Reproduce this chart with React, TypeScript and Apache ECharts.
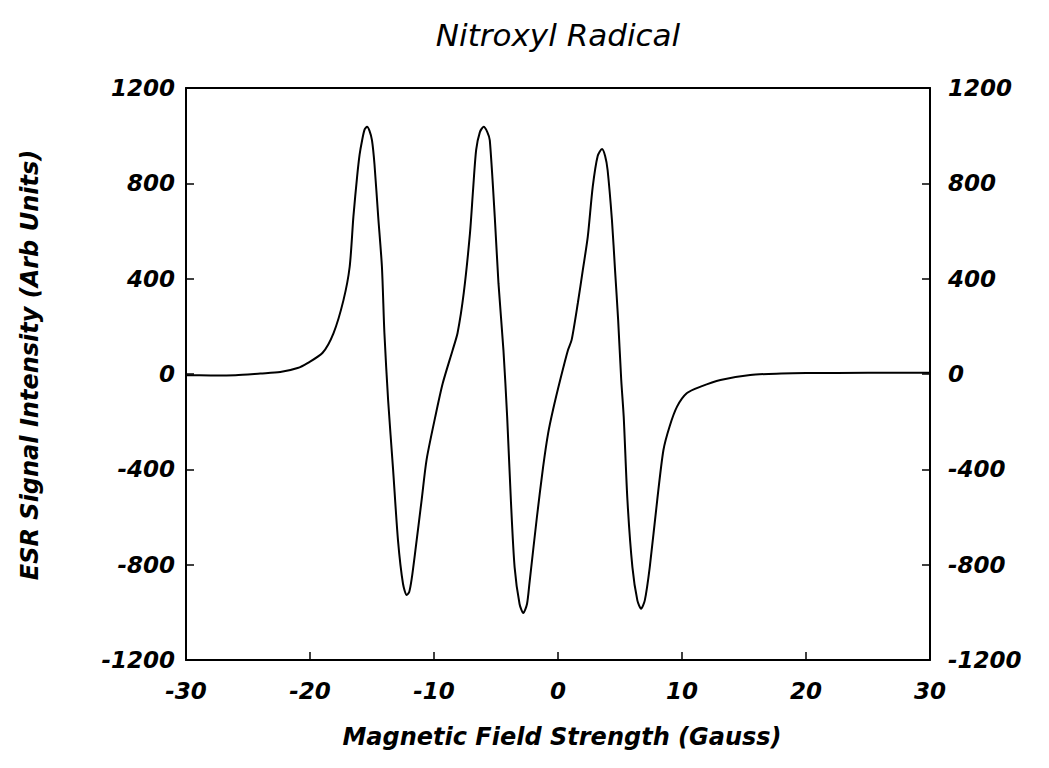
import React, { useEffect, useRef } from "react";
import * as echarts from "echarts";

const fieldGauss: number[] = [
  -30, -28, -26, -24, -22.4, -21, -20.2, -19, -18.1, -17.3, -16.8, -16.5, -16.2, -16.0, -15.8,
  -15.6, -15.4, -15.2, -15.0, -14.8, -14.5, -14.2, -14.0, -13.7, -13.3, -12.9, -12.5, -12.2,
  -12.0, -11.8, -11.5, -11.0, -10.6, -9.9, -9.3, -8.5, -8.1, -7.6, -7.1, -6.85, -6.6, -6.3,
  -6.0, -5.7, -5.5, -5.1, -4.8, -4.4, -4.1, -3.8, -3.5, -3.1, -2.8, -2.5, -2.3, -1.7, -1.2,
  -0.8, -0.4, 0.2, 0.8, 1.1, 1.6, 2.0, 2.4, 2.8, 3.2, 3.55, 3.8, 4.0, 4.35, 4.6, 4.85, 5.1,
  5.3, 5.6, 6.0, 6.4, 6.7, 7.0, 7.4, 8.0, 8.5, 9.0, 9.6, 10.4, 11.5, 13.1, 15.5, 18, 20, 25, 30,
];

const signal: number[] = [
  -5, -6, -5, 2, 8, 25, 46, 88, 172, 310, 450, 660, 828, 920, 980,
  1025, 1037, 1020, 980, 880, 660, 450, 172, -110, -400, -700, -880, -927,
  -915, -860, -740, -530, -360, -180, -40, 100, 172, 340, 590, 772, 940, 1015,
  1037, 1015, 980, 660, 380, 100, -180, -530, -810, -965, -1003, -965, -877, -600, -390,
  -250, -150, -20, 100, 143, 298, 436, 575, 785, 915, 944, 915, 856, 646, 436, 227, -25,
  -180, -530, -810, -950, -985, -950, -810, -530, -320, -220, -137, -80, -53, -25, -4, 2, 4, 5, 5,
];

const xTicks = { min: -30, max: 30, interval: 10 };
const yTicks = { min: -1200, max: 1200, interval: 400 };

const titleText = "Nitroxyl Radical";
const xTitle = "Magnetic Field Strength (Gauss)";
const yTitle = "ESR Signal Intensity (Arb Units)";

export default function App() {
  const ref = useRef<HTMLDivElement>(null);
  useEffect(() => {
    if (!ref.current) return;
    const chart = echarts.init(ref.current, undefined, { renderer: "svg" });
    const data = fieldGauss.map((x, i) => [x, signal[i]]);
    const labelFont = {
      fontFamily: "DejaVu Sans",
      fontStyle: "italic" as const,
      fontWeight: "bold" as const,
      fontSize: 23,
      color: "#000",
      formatter: (v: number) => String(v),
    };
    const yAxisBase = {
      type: "value" as const,
      min: yTicks.min,
      max: yTicks.max,
      interval: yTicks.interval,
      splitLine: { show: false },
      axisLine: { show: true, onZero: false, lineStyle: { color: "#000", width: 2 } },
      axisTick: { show: true, inside: true, length: 8, lineStyle: { color: "#000", width: 1.5 } },
    };
    chart.setOption({
      animation: false,
      backgroundColor: "#fff",
      grid: { left: 186, right: 119, top: 88, bottom: 108, containLabel: false },
      xAxis: [
        {
          type: "value",
          position: "bottom",
          min: xTicks.min,
          max: xTicks.max,
          interval: xTicks.interval,
          splitLine: { show: false },
          axisLine: { show: true, onZero: false, lineStyle: { color: "#000", width: 2 } },
          axisTick: { show: true, inside: true, length: 8, lineStyle: { color: "#000", width: 1.5 } },
          axisLabel: { ...labelFont, margin: 19 },
        },
        {
          type: "value",
          position: "top",
          min: xTicks.min,
          max: xTicks.max,
          interval: xTicks.interval,
          splitLine: { show: false },
          axisLine: { show: true, onZero: false, lineStyle: { color: "#000", width: 2 } },
          axisTick: { show: false },
          axisLabel: { show: false },
        },
      ],
      yAxis: [
        { ...yAxisBase, position: "left", axisLabel: { ...labelFont, margin: 11 } },
        { ...yAxisBase, position: "right", axisLabel: { ...labelFont, margin: 18 } },
      ],
      graphic: [
        {
          type: "text",
          x: 558,
          y: 35,
          style: {
            text: titleText,
            fontFamily: "DejaVu Sans",
            fontStyle: "italic",
            fontSize: 31,
            fill: "#000",
            textAlign: "center",
            textVerticalAlign: "middle",
          },
        },
        {
          type: "text",
          x: 562,
          y: 737,
          style: {
            text: xTitle,
            fontFamily: "DejaVu Sans",
            fontStyle: "italic",
            fontWeight: "bold",
            fontSize: 24,
            fill: "#000",
            textAlign: "center",
            textVerticalAlign: "middle",
          },
        },
        {
          type: "text",
          x: 30,
          y: 365,
          rotation: Math.PI / 2,
          style: {
            text: yTitle,
            fontFamily: "DejaVu Sans",
            fontStyle: "italic",
            fontWeight: "bold",
            fontSize: 24,
            fill: "#000",
            textAlign: "center",
            textVerticalAlign: "middle",
          },
        },
      ],
      series: [
        {
          type: "line",
          xAxisIndex: 0,
          yAxisIndex: 0,
          data,
          smooth: 0.25,
          showSymbol: false,
          lineStyle: { color: "#000", width: 2 },
        },
      ],
    });
    return () => chart.dispose();
  }, []);
  return (
    <div
      ref={ref}
      style={{ position: "fixed", left: 0, top: 0, width: 1049, height: 768 }}
    />
  );
}
